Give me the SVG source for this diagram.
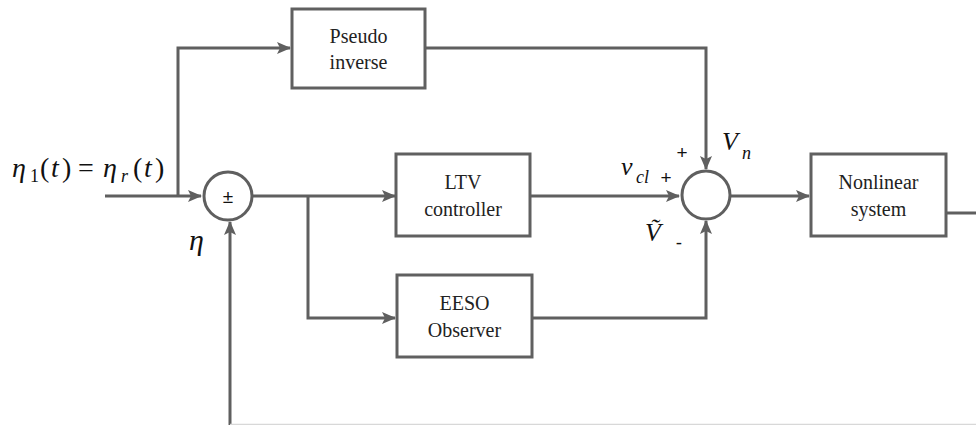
<svg xmlns="http://www.w3.org/2000/svg" width="976" height="425" viewBox="0 0 976 425">
<defs>
<marker id="arr" markerWidth="14" markerHeight="12" refX="13" refY="6" orient="auto" markerUnits="userSpaceOnUse">
<path d="M0,0 L14,6 L0,12 L3,6 Z" fill="#5f5f5f"/>
</marker>
</defs>
<style>
.box{fill:#fff;stroke:#606060;stroke-width:3}
.sum{fill:#fff;stroke:#5f5f5f;stroke-width:3}
.ln{fill:none;stroke:#5f5f5f;stroke-width:3}
</style>
<rect width="976" height="425" fill="#fff"/>
<g id="connectors">
<path class="ln" d="M105,196 H201" marker-end="url(#arr)"/>
<path class="ln" d="M178,196 V48 H290" marker-end="url(#arr)"/>
<path class="ln" d="M425,48 H706 V169" marker-end="url(#arr)"/>
<path class="ln" d="M252,196 H395" marker-end="url(#arr)"/>
<path class="ln" d="M308,196 V318 H395" marker-end="url(#arr)"/>
<path class="ln" d="M530,196 H679" marker-end="url(#arr)"/>
<path class="ln" d="M532,318 H706 V221" marker-end="url(#arr)"/>
<path class="ln" d="M730,196 H809" marker-end="url(#arr)"/>
<path class="ln" d="M946,213 H976"/>
<path class="ln" d="M230,425 V222" marker-end="url(#arr)"/>
<path d="M230,424.5 H976" fill="none" stroke="#d8d8d8" stroke-width="1.5"/>
</g>
<g id="sum1">
<circle class="sum" cx="228" cy="196" r="24"/>
<text x="228" y="203" style="font-family:'Liberation Sans',sans-serif;font-size:19px;fill:#111;text-anchor:middle">±</text>
</g>
<g id="sum2">
<circle class="sum" cx="706" cy="195" r="24"/>
</g>
<g id="pseudo">
<rect class="box" x="292" y="9" width="133" height="79"/>
<text x="358.5" y="43" style="font-family:'Liberation Serif',serif;font-size:20px;fill:#222;text-anchor:middle">Pseudo</text>
<text x="358.5" y="69" style="font-family:'Liberation Serif',serif;font-size:20px;fill:#222;text-anchor:middle">inverse</text>
</g>
<g id="ltv">
<rect class="box" x="396" y="154" width="134" height="82"/>
<text x="463" y="189" style="font-family:'Liberation Serif',serif;font-size:20px;fill:#222;text-anchor:middle">LTV</text>
<text x="463" y="216" style="font-family:'Liberation Serif',serif;font-size:20px;fill:#222;text-anchor:middle">controller</text>
</g>
<g id="eeso">
<rect class="box" x="397" y="275" width="135" height="82"/>
<text x="464.5" y="310" style="font-family:'Liberation Serif',serif;font-size:20px;fill:#222;text-anchor:middle">EESO</text>
<text x="464.5" y="337" style="font-family:'Liberation Serif',serif;font-size:20px;fill:#222;text-anchor:middle">Observer</text>
</g>
<g id="nonlinear">
<rect class="box" x="811" y="154" width="135" height="82"/>
<text x="878.5" y="189" style="font-family:'Liberation Serif',serif;font-size:20px;fill:#222;text-anchor:middle">Nonlinear</text>
<text x="878.5" y="216" style="font-family:'Liberation Serif',serif;font-size:20px;fill:#222;text-anchor:middle">system</text>
</g>
<g id="labels">
<text y="177" style="font-family:'Liberation Serif',serif;font-style:italic;font-size:28px;fill:#111"><tspan x="12">η</tspan><tspan x="30" y="182" style="font-style:normal;font-size:18px">1</tspan><tspan x="40" y="177" style="font-style:normal">(</tspan><tspan x="51">t</tspan><tspan x="62" style="font-style:normal">)</tspan><tspan x="78" style="font-style:normal">=</tspan><tspan x="103">η</tspan><tspan x="121" y="182" style="font-size:18px">r</tspan><tspan x="133" y="177" style="font-style:normal">(</tspan><tspan x="144">t</tspan><tspan x="155" style="font-style:normal">)</tspan></text>
<text x="189" y="250" style="font-family:'Liberation Serif',serif;font-style:italic;font-size:30px;fill:#111">η</text>
<text x="722" y="150" style="font-family:'Liberation Serif',serif;font-style:italic;font-size:26px;fill:#111">V</text>
<text x="742" y="159" style="font-family:'Liberation Serif',serif;font-style:italic;font-size:18px;fill:#111">n</text>
<text x="621" y="175" style="font-family:'Liberation Serif',serif;font-style:italic;font-size:26px;fill:#111">v</text>
<text x="636" y="183" style="font-family:'Liberation Serif',serif;font-style:italic;font-size:18px;fill:#111">cl</text>
<text x="645" y="241" style="font-family:'Liberation Serif',serif;font-style:italic;font-size:26px;fill:#111">Ṽ</text>
</g>
<g id="signs">
<text x="682" y="159" style="font-family:'Liberation Sans',sans-serif;font-size:19px;fill:#111;text-anchor:middle">+</text>
<text x="666" y="184" style="font-family:'Liberation Sans',sans-serif;font-size:19px;fill:#111;text-anchor:middle">+</text>
<text x="679" y="249" style="font-family:'Liberation Sans',sans-serif;font-size:19px;fill:#111;text-anchor:middle">-</text>
</g>
</svg>
